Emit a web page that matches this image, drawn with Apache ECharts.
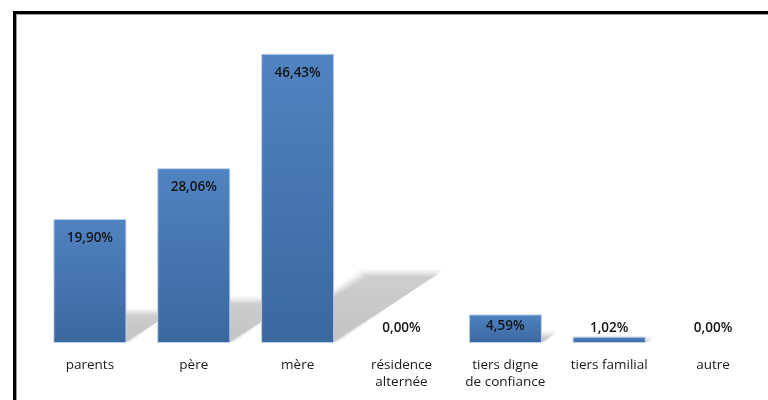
<!DOCTYPE html>
<html>
<head>
<meta charset="utf-8">
<script src="https://cdn.jsdelivr.net/npm/echarts@6/dist/echarts.min.js"></script>
<style>
html,body{margin:0;padding:0;background:#fff;}
#c{width:768px;height:400px;}
</style>
</head>
<body>
<div id="c"></div>
<script>
var categories = ['parents', 'père', 'mère', 'résidence\nalternée', 'tiers digne\nde confiance', 'tiers familial', 'autre'];
var values = [19.90, 28.06, 46.43, 0.00, 4.59, 1.02, 0.00];

var chart = echarts.init(document.getElementById('c'));
var FONT = '"Open Sans", "Noto Sans", sans-serif';
var BARW = 73;

function fmt(v) { return v.toFixed(2).replace('.', ',') + '%'; }

var barData = values.map(function (v) {
  var lab;
  if (v >= 10) lab = { position: 'insideTop', distance: 12 };
  else if (v >= 3) lab = { position: 'insideTop', distance: 5 };
  else lab = { position: 'top', distance: Math.max(1, 8 - v * 6.2) };
  var item = { value: v, label: lab };
  if (v === 0) item.itemStyle = { borderWidth: 0, color: 'rgba(0,0,0,0)' };
  return item;
});

var option = {
  animation: false,
  backgroundColor: '#ffffff',
  graphic: [{
    type: 'rect', z: 100,
    shape: { x: 14.5, y: 12.5, width: 800, height: 500 },
    style: { fill: 'none', stroke: '#000', lineWidth: 3 }
  }, {
    type: 'rect', z: 99,
    shape: { x: 16.5, y: 14.5, width: 800, height: 500 },
    style: { fill: 'none', stroke: '#9a9a9a', lineWidth: 1 }
  }],
  grid: { left: 38, right: 3, top: 31.5, bottom: 57 },
  xAxis: {
    type: 'category',
    data: categories,
    axisLine: { show: false },
    axisTick: { show: false },
    axisLabel: {
      color: '#1a1a1a', fontFamily: FONT, fontSize: 13.5, margin: 14,
      lineHeight: 17, interval: 0
    }
  },
  yAxis: {
    type: 'value', min: 0, max: 50, show: false,
    splitLine: { show: false }
  },
  series: [{
    type: 'custom',
    z: 1,
    silent: true,
    data: values.map(function (v, i) { return [i, v]; }),
    renderItem: function (params, api) {
      var i = api.value(0), v = api.value(1);
      var base = api.coord([i, 0]);
      var top = api.coord([i, v]);
      var h = base[1] - top[1];
      if (h < 2) return null;
      var dx = h * 0.36, dy = h * 0.235;
      var x0 = base[0] - BARW / 2, x1 = base[0] + BARW / 2, y = base[1] - 1;
      var children = [];
      var layers = [[5, 0.06], [3, 0.08], [1.5, 0.10], [0, 0.12], [-2, 0.14]];
      layers.forEach(function (L) {
        var e = L[0];
        children.push({
          type: 'polygon',
          shape: { points: [
            [x0, y], [x1 + e, y],
            [x1 + dx + e, y - dy - e], [x0 + dx - e, y - dy - e]
          ] },
          style: {
            fill: new echarts.graphic.LinearGradient(0, 1, 0, 0, [
              { offset: 0, color: 'rgba(110,110,110,' + L[1] + ')' },
              { offset: 1, color: 'rgba(110,110,110,' + (L[1] * 0.8) + ')' }
            ])
          }
        });
      });
      return { type: 'group', children: children };
    }
  }, {
    type: 'bar',
    z: 2,
    barWidth: BARW,
    data: barData,
    itemStyle: {
      color: new echarts.graphic.LinearGradient(0, 0, 0, 1, [
        { offset: 0, color: '#5083c1' },
        { offset: 1, color: '#3b679f' }
      ]),
      borderColor: 'rgba(190,210,235,0.9)',
      borderWidth: 1
    },
    label: {
      show: true,
      color: '#151515',
      fontFamily: FONT,
      fontSize: 13.5,
      fontWeight: 600,
      formatter: function (p) { return fmt(p.value); }
    }
  }]
};
chart.setOption(option);
</script>
</body>
</html>
